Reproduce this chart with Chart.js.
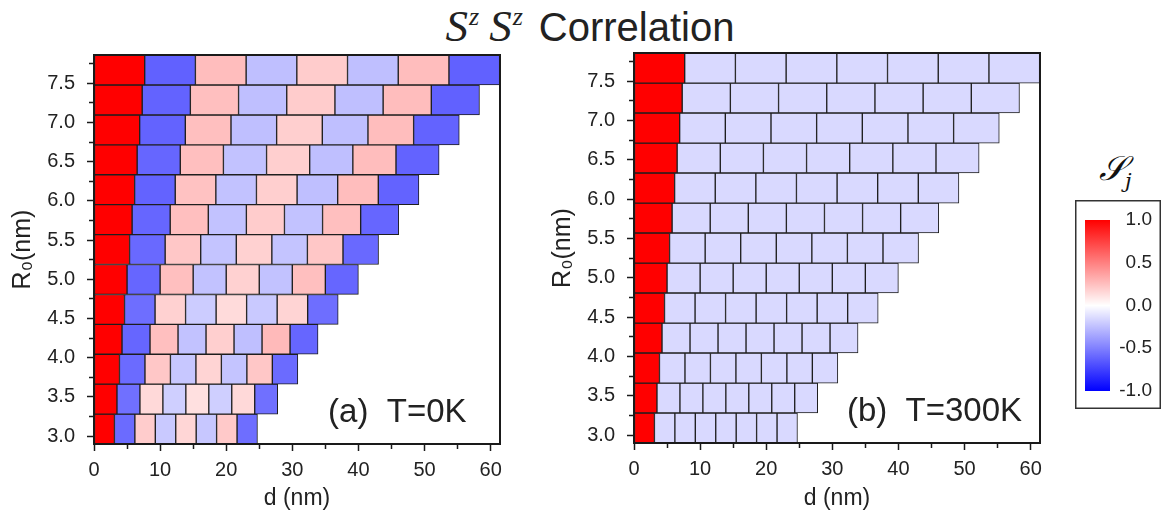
<!DOCTYPE html>
<html>
<head>
<meta charset="utf-8">
<script src="https://cdn.jsdelivr.net/npm/chart.js@4.4.0/dist/chart.umd.min.js"></script>
<style>
  body{margin:0;background:#fff;width:1163px;height:514px;position:relative;overflow:hidden;font-family:"Liberation Sans",Arial,sans-serif;}
  canvas{position:absolute;}
  #title{position:absolute;left:0;width:1180px;top:0px;text-align:center;font-size:40px;color:#222;white-space:nowrap;}
  #title .m{font-family:"Liberation Serif","Times New Roman",serif;font-style:italic;font-size:45px;margin-right:16px;}
  #title sup{font-size:26px;vertical-align:0;position:relative;top:-16px;margin-left:1px;}
  #title sup.first{margin-right:10px;}
  #cbLabel{position:absolute;left:1099px;top:148px;font-family:"DejaVu Serif","Liberation Serif",serif;font-style:italic;font-size:34px;color:#111;}
  #cbLabel sub{font-size:21px;}
</style>
</head>
<body>
<div id="title"><span class="m">S<sup class="first">z</sup>S<sup>z</sup></span>Correlation</div>
<div id="cbLabel">𝒮<sub>j</sub></div>
<canvas id="panelA" width="545" height="514" style="left:0;top:0"></canvas>
<canvas id="panelB" width="545" height="514" style="left:540px;top:0"></canvas>
<canvas id="cbar" width="86" height="209" style="left:1075px;top:200px"></canvas>
<script>
// ===== Data =====
// row centres R0 (nm), bottom to top; each row holds 8 sites of width R0 along d
const rowR0 = [3.09, 3.472, 3.853, 4.235, 4.616, 4.998, 5.379, 5.761, 6.142, 6.524, 6.905, 7.287, 7.668];

// S_j at T=0K, one row per R0 (bottom to top), sites j=0..7
const corrT0 = [
  [1, -0.58, 0.20, -0.21, 0.16, -0.22, 0.21, -0.57],
  [1, -0.56, 0.15, -0.19, 0.12, -0.19, 0.15, -0.56],
  [1, -0.58, 0.22, -0.22, 0.17, -0.23, 0.22, -0.58],
  [1, -0.60, 0.25, -0.24, 0.19, -0.25, 0.27, -0.60],
  [1, -0.57, 0.18, -0.20, 0.14, -0.21, 0.17, -0.57],
  [1, -0.60, 0.25, -0.24, 0.18, -0.24, 0.25, -0.60],
  [1, -0.59, 0.22, -0.23, 0.18, -0.23, 0.22, -0.59],
  [1, -0.60, 0.25, -0.24, 0.20, -0.24, 0.25, -0.60],
  [1, -0.61, 0.24, -0.24, 0.19, -0.25, 0.26, -0.61],
  [1, -0.60, 0.25, -0.24, 0.19, -0.25, 0.26, -0.61],
  [1, -0.61, 0.25, -0.25, 0.19, -0.25, 0.26, -0.61],
  [1, -0.61, 0.25, -0.25, 0.20, -0.25, 0.26, -0.62],
  [1, -0.62, 0.26, -0.25, 0.20, -0.25, 0.26, -0.62]
];

// S_j at T=300K
const corrT300 = [
  [1, -0.15, -0.15, -0.15, -0.15, -0.15, -0.15, -0.15],
  [1, -0.15, -0.15, -0.15, -0.15, -0.15, -0.15, -0.15],
  [1, -0.15, -0.15, -0.15, -0.15, -0.15, -0.15, -0.15],
  [1, -0.15, -0.15, -0.15, -0.15, -0.15, -0.15, -0.15],
  [1, -0.15, -0.15, -0.15, -0.15, -0.15, -0.15, -0.15],
  [1, -0.15, -0.15, -0.15, -0.15, -0.15, -0.15, -0.15],
  [1, -0.15, -0.15, -0.15, -0.15, -0.15, -0.15, -0.15],
  [1, -0.15, -0.15, -0.15, -0.15, -0.15, -0.15, -0.15],
  [1, -0.15, -0.15, -0.15, -0.15, -0.15, -0.15, -0.15],
  [1, -0.15, -0.15, -0.15, -0.15, -0.15, -0.15, -0.15],
  [1, -0.15, -0.15, -0.15, -0.15, -0.15, -0.15, -0.15],
  [1, -0.15, -0.15, -0.15, -0.15, -0.15, -0.15, -0.15],
  [1, -0.15, -0.15, -0.15, -0.15, -0.15, -0.15, -0.15]
];

const xTickValues = [0, 5, 10, 15, 20, 25, 30, 35, 40, 45, 50, 55, 60];
const xTickLabels = ['0', '', '10', '', '20', '', '30', '', '40', '', '50', '', '60'];
const yTickValues = [3.0, 3.25, 3.5, 3.75, 4.0, 4.25, 4.5, 4.75, 5.0, 5.25, 5.5, 5.75, 6.0, 6.25, 6.5, 6.75, 7.0, 7.25, 7.5, 7.75];
const yTickLabels = ['3.0', '', '3.5', '', '4.0', '', '4.5', '', '5.0', '', '5.5', '', '6.0', '', '6.5', '', '7.0', '', '7.5', ''];
const cbTickValues = [-1, -0.5, 0, 0.5, 1];
const cbTickLabels = ['-1.0', '-0.5', '0.0', '0.5', '1.0'];

// ===== Helpers =====
const FONT = '"Liberation Sans", Arial, sans-serif';
Chart.defaults.font.family = FONT;
Chart.defaults.color = '#222';

function corrColor(v){
  const t = Math.round(255 * (1 - Math.min(1, Math.abs(v))));
  return v >= 0 ? `rgb(255,${t},${t})` : `rgb(${t},${t},255)`;
}

const plotFrame = {
  id: 'plotFrame',
  afterDatasetsDraw(chart, args, opts){
    const {ctx, chartArea: a} = chart;
    ctx.save();
    ctx.strokeStyle = opts.color || '#222';
    ctx.lineWidth = opts.width || 2;
    if(opts.whole){
      const w = ctx.lineWidth / 2;
      ctx.strokeRect(w, w, chart.width - 2*w, chart.height - 2*w);
    } else {
      ctx.strokeRect(a.left, a.top, a.right - a.left, a.bottom - a.top);
    }
    ctx.restore();
  }
};

const panelTag = {
  id: 'panelTag',
  afterDraw(chart, args, opts){
    if(!opts.text) return;
    const {ctx, scales} = chart;
    ctx.save();
    ctx.font = `33px ${FONT}`;
    ctx.fillStyle = '#222';
    ctx.textBaseline = 'alphabetic';
    ctx.fillText(opts.text, scales.x.getPixelForValue(opts.x), scales.y.getPixelForValue(opts.y));
    ctx.restore();
  }
};

function makeDatasets(corr){
  const sets = [];
  for(let j = 0; j < 8; j++){
    sets.push({
      data: rowR0.map(r => ({y: r, x: [j*r, (j+1)*r]})),
      backgroundColor: corr.map(row => corrColor(row[j])),
      borderColor: '#1e1e1e',
      borderWidth: 1,
      borderSkipped: false,
      grouped: false,
      barPercentage: 1,
      categoryPercentage: 1,
      yAxisID: 'rows'
    });
  }
  return sets;
}

function panelChart(id, corr, tag, padTop, xAxisH){
  return new Chart(document.getElementById(id), {
    type: 'bar',
    data: {datasets: makeDatasets(corr)},
    options: {
      indexAxis: 'y',
      responsive: false,
      animation: false,
      events: [],
      layout: {padding: {top: padTop, right: 45, left: 0, bottom: 0}},
      plugins: {
        legend: {display: false},
        tooltip: {enabled: false},
        plotFrame: {color: '#1a1a1a', width: 2},
        panelTag: tag
      },
      scales: {
        x: {
          type: 'linear', min: 0, max: 61.4, offset: false,
          afterBuildTicks: s => { s.ticks = xTickValues.map(v => ({value: v})); },
          afterFit: s => { s.height = xAxisH; },
          ticks: {
            autoSkip: false, maxRotation: 0, padding: 7,
            font: {size: 20}, color: '#222',
            callback: (v, i) => xTickLabels[i]
          },
          grid: {
            offset: false, drawOnChartArea: false, tickLength: 7, tickWidth: 1.5, tickColor: '#1a1a1a',
            tickBorderDash: c => xTickLabels[c.index] === '' ? [4, 100] : []
          },
          border: {display: true, color: '#1a1a1a', width: 2},
          title: {display: true, text: 'd (nm)', font: {size: 23}, color: '#222', padding: {top: 0, bottom: 2}}
        },
        y: {
          type: 'linear', position: 'left', min: 2.90, max: 7.86, offset: false,
          afterBuildTicks: s => { s.ticks = yTickValues.map(v => ({value: v})); },
          afterFit: s => { s.width = 94; },
          ticks: {
            autoSkip: false, padding: 12,
            font: {size: 20}, color: '#222',
            callback: (v, i) => yTickLabels[i]
          },
          grid: {
            offset: false, drawOnChartArea: false, tickLength: 7, tickWidth: 1.5, tickColor: '#1a1a1a',
            tickBorderDash: c => yTickLabels[c.index] === '' ? [0, 2, 4, 100] : []
          },
          border: {display: true, color: '#1a1a1a', width: 2},
          title: {display: true, text: 'R₀(nm)', font: {size: 25}, color: '#222', padding: {top: 8, bottom: 0}}
        },
        rows: {
          type: 'linear', axis: 'y', display: false, min: 2.90, max: 7.86, offset: false,
          grid: {offset: false},
          afterBuildTicks: s => { s.ticks = [{value: s.min}, {value: s.max}]; }
        }
      }
    },
    plugins: [plotFrame, panelTag]
  });
}

panelChart('panelA', corrT0, {text: '(a)  T=0K', x: 35.4, y: 3.18}, 55, 70);
panelChart('panelB', corrT300, {text: '(b)  T=300K', x: 32.2, y: 3.18}, 53, 71);

// ===== Colour bar =====
new Chart(document.getElementById('cbar'), {
  type: 'bar',
  data: {
    labels: [''],
    datasets: [{
      data: [[-1, 1]],
      borderWidth: 0,
      inflateAmount: 0,
      barPercentage: 1,
      categoryPercentage: 1,
      backgroundColor: c => {
        const chart = c.chart;
        if(!chart.chartArea) return '#fff';
        const y = chart.scales.y;
        const g = chart.ctx.createLinearGradient(0, y.getPixelForValue(1), 0, y.getPixelForValue(-1));
        const stops = [1, 0.75, 0.5, 0.25, 0, -0.25, -0.5, -0.75, -1];
        stops.forEach((v, i) => g.addColorStop(i / (stops.length - 1), corrColor(v)));
        return g;
      }
    }]
  },
  options: {
    responsive: false,
    animation: false,
    events: [],
    layout: {padding: {top: 20, left: 10, right: 9, bottom: 18}},
    plugins: {legend: {display: false}, tooltip: {enabled: false}, plotFrame: {whole: true, color: '#333', width: 1.5}},
    scales: {
      x: {display: false},
      y: {
        position: 'right', min: -1, max: 1, offset: false,
        afterBuildTicks: s => { s.ticks = cbTickValues.map(v => ({value: v})); },
        afterFit: s => { s.width = 42; },
        ticks: {crossAlign: 'far', padding: 5, font: {size: 19}, color: '#222', callback: (v, i) => cbTickLabels[i]},
        grid: {display: false, drawTicks: false},
        border: {display: false}
      }
    }
  },
  plugins: [plotFrame]
});
</script>
</body>
</html>
